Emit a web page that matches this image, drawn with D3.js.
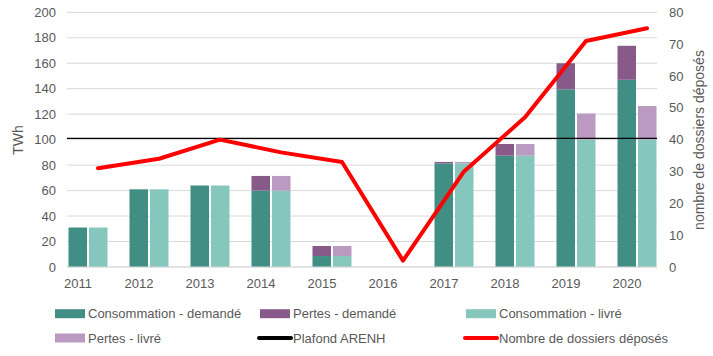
<!DOCTYPE html>
<html>
<head>
<meta charset="utf-8">
<script src="https://cdn.jsdelivr.net/npm/d3@7"></script>
<style>
  html, body { margin: 0; padding: 0; background: #fff; }
  svg { display: block; font-family: "Liberation Sans", Arial, sans-serif; }
</style>
</head>
<body>
<svg id="chart" width="713" height="356"></svg>
<script>
const years = ["2011","2012","2013","2014","2015","2016","2017","2018","2019","2020"];
const consoDemande = [31, 61, 64, 60, 8.6, 0, 81.4, 87.4, 139.5, 147];
const pertesDemande = [0, 0, 0, 11.5, 7.9, 0, 1.1, 9.2, 20.5, 26.7];
const consoLivre = [31, 61, 64, 60, 8.6, 0, 81.4, 87.4, 100, 100];
const pertesLivre = [0, 0, 0, 11.5, 7.9, 0, 1.1, 9.2, 20.5, 26.4];
const dossiers = [31, 34, 40, 36, 33, 2, 30, 47, 71, 75];
const plafond = 101;
const leftTicks = [0,20,40,60,80,100,120,140,160,180,200];
const rightTicks = [0,10,20,30,40,50,60,70,80];
const legendItems = [
  {label: "Consommation - demandé", type: "rect", color: "#418F84"},
  {label: "Pertes - demandé", type: "rect", color: "#885A8A"},
  {label: "Consommation - livré", type: "rect", color: "#86C7BD"},
  {label: "Pertes - livré", type: "rect", color: "#BB9AC2"},
  {label: "Plafond ARENH", type: "line", color: "#000000"},
  {label: "Nombre de dossiers déposés", type: "line", color: "#FF0000"}
];

const svg = d3.select("#chart");
const plotL = 67, plotR = 657, plotT = 12.3, plotB = 267;
const x = d3.scaleBand().domain(years).range([57.5, 667.5]);
const yL = d3.scaleLinear().domain([0, 200]).range([plotB, plotT]);
const yR = d3.scaleLinear().domain([0, 80]).range([plotB, plotT]);
const cx = d => x(d) + x.bandwidth() / 2;
const barW = 18.5, gap = 2;
const textColor = "#595959";

// gridlines
svg.append("g").selectAll("line").data(leftTicks).join("line")
  .attr("x1", plotL).attr("x2", plotR)
  .attr("y1", d => yL(d)).attr("y2", d => yL(d))
  .attr("stroke", "#D9D9D9").attr("stroke-width", 1);

// left axis
const axL = d3.axisLeft(yL).tickValues(leftTicks).tickSize(0).tickPadding(0);
const gL = svg.append("g").attr("transform", `translate(${56},0)`).call(axL);
gL.select(".domain").remove();
gL.selectAll("text").attr("fill", textColor).style("font-size", "13px");

// right axis
const axR = d3.axisRight(yR).tickValues(rightTicks).tickSize(0).tickPadding(0);
const gR = svg.append("g").attr("transform", `translate(${669},0)`).call(axR);
gR.select(".domain").remove();
gR.selectAll("text").attr("fill", textColor).style("font-size", "13px");

// x axis labels
const axB = d3.axisBottom(x).tickSize(0).tickPadding(0);
const gB = svg.append("g").attr("transform", `translate(${-10},${278.5})`).call(axB);
gB.select(".domain").remove();
gB.selectAll("text").attr("fill", textColor).style("font-size", "13px").attr("dy", "0.71em");

// bars
const bars = svg.append("g");
years.forEach((yr, i) => {
  const c = cx(yr);
  const segs = [
    {x0: c - gap/2 - barW, v0: 0, v1: consoDemande[i], color: "#418F84"},
    {x0: c - gap/2 - barW, v0: consoDemande[i], v1: consoDemande[i] + pertesDemande[i], color: "#885A8A"},
    {x0: c + gap/2, v0: 0, v1: consoLivre[i], color: "#86C7BD"},
    {x0: c + gap/2, v0: consoLivre[i], v1: consoLivre[i] + pertesLivre[i], color: "#BB9AC2"}
  ];
  segs.forEach(s => {
    if (s.v1 - s.v0 <= 0) return;
    bars.append("rect")
      .attr("x", s.x0).attr("width", barW)
      .attr("y", yL(s.v1)).attr("height", yL(s.v0) - yL(s.v1))
      .attr("fill", s.color);
  });
});

// x axis baseline
svg.append("line").attr("x1", plotL).attr("x2", plotR)
  .attr("y1", yL(0)).attr("y2", yL(0)).attr("stroke", "#D9D9D9").attr("stroke-width", 1);

// plafond line
svg.append("line").attr("x1", plotL).attr("x2", plotR)
  .attr("y1", yL(plafond)).attr("y2", yL(plafond))
  .attr("stroke", "#000").attr("stroke-width", 1.2);

// dossiers line
const line = d3.line().x((d, i) => cx(years[i]) + 10).y(d => yR(d));
svg.append("path").datum(dossiers).attr("d", line)
  .attr("fill", "none").attr("stroke", "#FF0000").attr("stroke-width", 4)
  .attr("stroke-linejoin", "round").attr("stroke-linecap", "round");

// axis titles
svg.append("text").attr("transform", `translate(23,${140}) rotate(-90)`)
  .attr("text-anchor", "middle").attr("fill", textColor)
  .style("font-size", "14px").text("TWh");
svg.append("text").attr("transform", `translate(704,${140}) rotate(-90)`)
  .attr("text-anchor", "middle").attr("fill", textColor)
  .style("font-size", "14px").text("nombre de dossiers déposés");

// legend
const legX = [55, 260, 466];
const legY = [313.7, 338];
legendItems.forEach((it, i) => {
  const col = i % 3, row = Math.floor(i / 3);
  const gx = legX[col], gy = legY[row];
  const g = svg.append("g");
  if (it.type === "rect") {
    g.append("rect").attr("x", gx).attr("y", gy - 4.5).attr("width", 30).attr("height", 9).attr("fill", it.color);
  } else {
    g.append("line").attr("x1", gx - 1).attr("x2", gx + 31).attr("y1", gy).attr("y2", gy)
      .attr("stroke", it.color).attr("stroke-width", 4).attr("stroke-linecap", "round");
  }
  g.append("text").attr("x", gx + 33).attr("y", gy).attr("dy", "0.35em")
    .attr("fill", textColor).style("font-size", "13px").text(it.label);
});
</script>
</body>
</html>
